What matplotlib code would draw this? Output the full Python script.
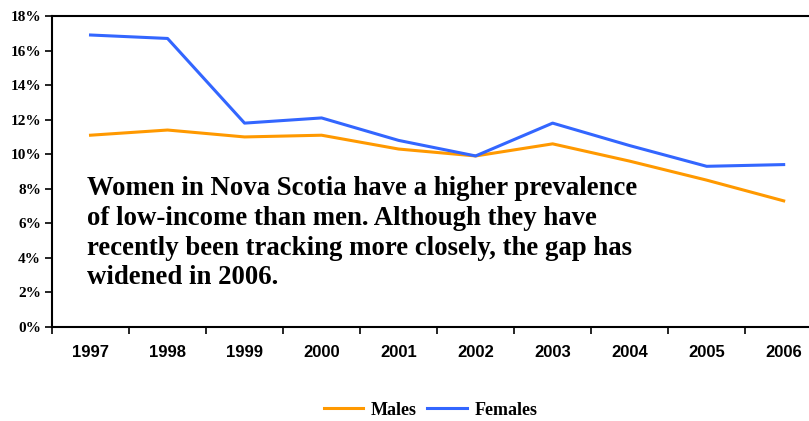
import matplotlib.pyplot as plt
from matplotlib.ticker import FuncFormatter, FixedLocator

years = ['1997', '1998', '1999', '2000', '2001', '2002', '2003', '2004', '2005', '2006']
males = [11.1, 11.4, 11.0, 11.1, 10.3, 9.9, 10.6, 9.6, 8.5, 7.3]
females = [16.9, 16.7, 11.8, 12.1, 10.8, 9.9, 11.8, 10.5, 9.3, 9.4]

fig = plt.figure(figsize=(8.09, 4.21), dpi=100)
# plot area runs slightly past the right edge of the figure
ax = fig.add_axes([0.0643, 0.2233, 0.952, 0.7387])

x = range(len(years))
ax.plot(x, males, color='#FF9900', lw=2.2, label='Males')
ax.plot(x, females, color='#3366FF', lw=2.2, label='Females')

ax.set_xlim(-0.5, len(years) - 0.5)
ax.set_ylim(0, 18)
ax.set_yticks(range(0, 19, 2))
ax.yaxis.set_major_formatter(FuncFormatter(lambda v, p: f'{int(v)}%'))

# category labels in the middle, tick marks between categories
ax.set_xticks(list(x))
ax.set_xticklabels(years, fontfamily='Liberation Sans', fontweight='bold', fontsize=12)
ax.tick_params(axis='x', length=0, pad=13)
ax.xaxis.set_minor_locator(FixedLocator([i - 0.5 for i in range(len(years) + 1)]))
ax.tick_params(axis='x', which='minor', length=5, width=1.2, direction='out')
ax.tick_params(axis='y', length=5, width=1.2, direction='out', pad=3)
for lbl in ax.get_yticklabels():
    lbl.set_fontfamily('Liberation Serif')
    lbl.set_fontweight('bold')
    lbl.set_fontsize(11)

for side in ['left', 'bottom', 'top']:
    ax.spines[side].set_linewidth(1.5)
ax.spines['right'].set_visible(False)

ax.text(0.0455, 0.485,
        'Women in Nova Scotia have a higher prevalence\n'
        'of low-income than men. Although they have\n'
        'recently been tracking more closely, the gap has\n'
        'widened in 2006.',
        transform=ax.transAxes, fontfamily='Liberation Serif', fontweight='bold',
        fontsize=19.3, va='top', ha='left', linespacing=1.25)

fig.legend(loc='center', bbox_to_anchor=(0.532, 0.026), ncol=2, frameon=False,
           prop={'family': 'Liberation Serif', 'weight': 'bold', 'size': 13},
           handlelength=2.2, columnspacing=0.6, handletextpad=0.4)

fig.savefig('out.png', dpi=100)
